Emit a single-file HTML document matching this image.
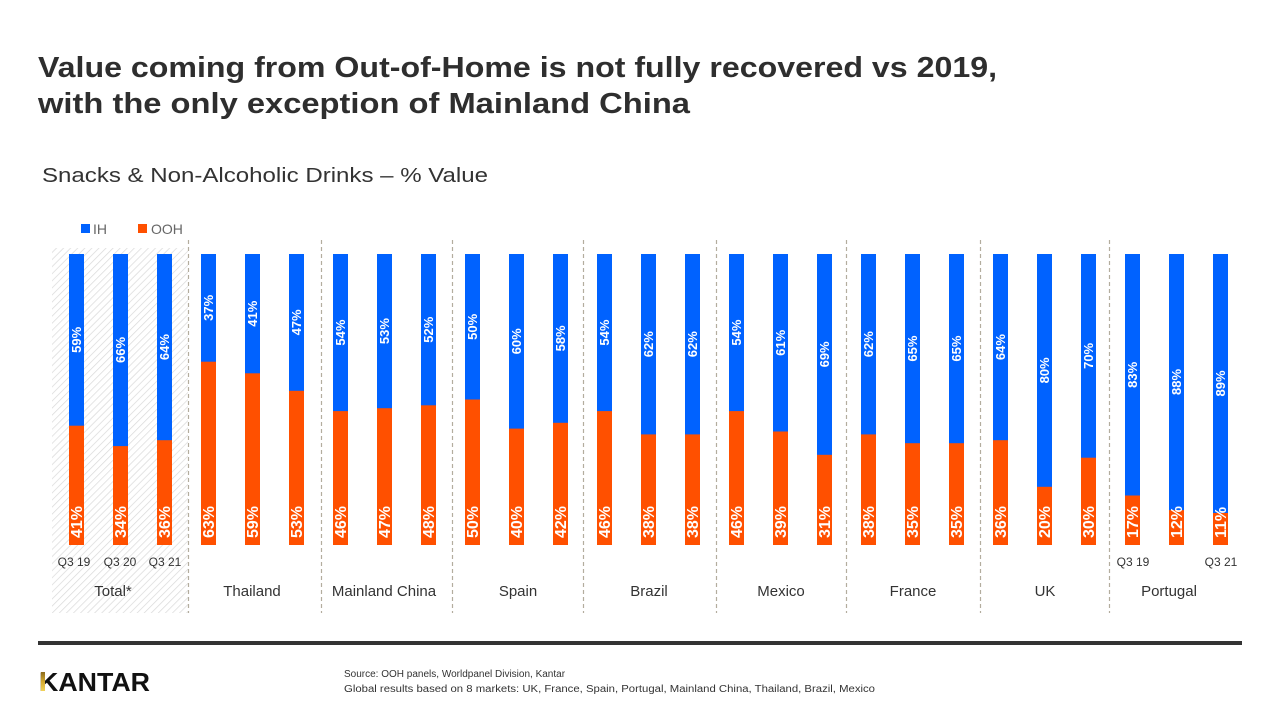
<!DOCTYPE html>
<html><head><meta charset="utf-8"><style>
html,body{margin:0;padding:0;background:#fff;}
svg{display:block;font-family:"Liberation Sans",sans-serif;}
.ih{font-size:13px;font-weight:bold;fill:#fff;text-anchor:middle;}
.oh{font-size:16px;font-weight:bold;fill:#fff;text-anchor:start;}
.q{font-size:12px;fill:#333;text-anchor:middle;}
.c{font-size:15px;fill:#333;text-anchor:middle;}
</style></head><body>
<svg width="1280" height="720" viewBox="0 0 1280 720" xmlns="http://www.w3.org/2000/svg">
<defs>
<pattern id="hatch" width="5" height="5" patternUnits="userSpaceOnUse" patternTransform="rotate(45)">
<rect width="5" height="5" fill="#fff"/>
<line x1="0" y1="0" x2="0" y2="5" stroke="#d9d9d9" stroke-width="1.4"/>
</pattern>
<linearGradient id="gold" x1="0" y1="0" x2="0" y2="1">
<stop offset="0" stop-color="#8a6a1c"/><stop offset="0.5" stop-color="#d4a92f"/><stop offset="1" stop-color="#f2d35a"/>
</linearGradient>
</defs>
<rect width="1280" height="720" fill="#fff"/>
<text x="38" y="77" font-size="29" font-weight="bold" fill="#2e2e2e" textLength="959" lengthAdjust="spacingAndGlyphs">Value coming from Out-of-Home is not fully recovered vs 2019,</text>
<text x="38" y="113" font-size="29" font-weight="bold" fill="#2e2e2e" textLength="652" lengthAdjust="spacingAndGlyphs">with the only exception of Mainland China</text>
<text x="42" y="182" font-size="20" fill="#333" textLength="446" lengthAdjust="spacingAndGlyphs">Snacks &amp; Non-Alcoholic Drinks – % Value</text>
<rect x="81" y="224" width="9" height="9" fill="#0062ff"/>
<text x="93" y="234" font-size="14" fill="#666">IH</text>
<rect x="138" y="224" width="9" height="9" fill="#ff5000"/>
<text x="151" y="234" font-size="14" fill="#666">OOH</text>
<rect x="52" y="248" width="136" height="365" fill="url(#hatch)"/>
<g stroke="#b3ad9e" stroke-width="1.2" stroke-dasharray="4,3">
<line x1="188.5" y1="240" x2="188.5" y2="613"/>
<line x1="321.5" y1="240" x2="321.5" y2="613"/>
<line x1="452.5" y1="240" x2="452.5" y2="613"/>
<line x1="583.5" y1="240" x2="583.5" y2="613"/>
<line x1="716.5" y1="240" x2="716.5" y2="613"/>
<line x1="846.5" y1="240" x2="846.5" y2="613"/>
<line x1="980.5" y1="240" x2="980.5" y2="613"/>
<line x1="1109.5" y1="240" x2="1109.5" y2="613"/>
</g>
<g fill="#0062ff">
<rect x="69" y="254" width="15" height="291"/><rect x="113" y="254" width="15" height="291"/><rect x="157" y="254" width="15" height="291"/>
<rect x="201" y="254" width="15" height="291"/><rect x="245" y="254" width="15" height="291"/><rect x="289" y="254" width="15" height="291"/>
<rect x="333" y="254" width="15" height="291"/><rect x="377" y="254" width="15" height="291"/><rect x="421" y="254" width="15" height="291"/>
<rect x="465" y="254" width="15" height="291"/><rect x="509" y="254" width="15" height="291"/><rect x="553" y="254" width="15" height="291"/>
<rect x="597" y="254" width="15" height="291"/><rect x="641" y="254" width="15" height="291"/><rect x="685" y="254" width="15" height="291"/>
<rect x="729" y="254" width="15" height="291"/><rect x="773" y="254" width="15" height="291"/><rect x="817" y="254" width="15" height="291"/>
<rect x="861" y="254" width="15" height="291"/><rect x="905" y="254" width="15" height="291"/><rect x="949" y="254" width="15" height="291"/>
<rect x="993" y="254" width="15" height="291"/><rect x="1037" y="254" width="15" height="291"/><rect x="1081" y="254" width="15" height="291"/>
<rect x="1125" y="254" width="15" height="291"/><rect x="1169" y="254" width="15" height="291"/><rect x="1213" y="254" width="15" height="291"/>
</g>
<g fill="#ff5000">
<rect x="69" y="425.7" width="15" height="119.3"/>
<rect x="113" y="446.1" width="15" height="98.9"/>
<rect x="157" y="440.2" width="15" height="104.8"/>
<rect x="201" y="361.7" width="15" height="183.3"/>
<rect x="245" y="373.3" width="15" height="171.7"/>
<rect x="289" y="390.8" width="15" height="154.2"/>
<rect x="333" y="411.1" width="15" height="133.9"/>
<rect x="377" y="408.2" width="15" height="136.8"/>
<rect x="421" y="405.3" width="15" height="139.7"/>
<rect x="465" y="399.5" width="15" height="145.5"/>
<rect x="509" y="428.6" width="15" height="116.4"/>
<rect x="553" y="422.8" width="15" height="122.2"/>
<rect x="597" y="411.1" width="15" height="133.9"/>
<rect x="641" y="434.4" width="15" height="110.6"/>
<rect x="685" y="434.4" width="15" height="110.6"/>
<rect x="729" y="411.1" width="15" height="133.9"/>
<rect x="773" y="431.5" width="15" height="113.5"/>
<rect x="817" y="454.8" width="15" height="90.2"/>
<rect x="861" y="434.4" width="15" height="110.6"/>
<rect x="905" y="443.2" width="15" height="101.8"/>
<rect x="949" y="443.2" width="15" height="101.8"/>
<rect x="993" y="440.2" width="15" height="104.8"/>
<rect x="1037" y="486.8" width="15" height="58.2"/>
<rect x="1081" y="457.7" width="15" height="87.3"/>
<rect x="1125" y="495.5" width="15" height="49.5"/>
<rect x="1169" y="510.1" width="15" height="34.9"/>
<rect x="1213" y="513.0" width="15" height="32.0"/>
</g>
<g>
<text class="ih" transform="translate(81.2,339.8) rotate(-90)">59%</text>
<text class="ih" transform="translate(125.2,350.0) rotate(-90)">66%</text>
<text class="ih" transform="translate(169.2,347.1) rotate(-90)">64%</text>
<text class="ih" transform="translate(213.2,307.8) rotate(-90)">37%</text>
<text class="ih" transform="translate(257.2,313.7) rotate(-90)">41%</text>
<text class="ih" transform="translate(301.2,322.4) rotate(-90)">47%</text>
<text class="ih" transform="translate(345.2,332.6) rotate(-90)">54%</text>
<text class="ih" transform="translate(389.2,331.1) rotate(-90)">53%</text>
<text class="ih" transform="translate(433.2,329.7) rotate(-90)">52%</text>
<text class="ih" transform="translate(477.2,326.8) rotate(-90)">50%</text>
<text class="ih" transform="translate(521.2,341.3) rotate(-90)">60%</text>
<text class="ih" transform="translate(565.2,338.4) rotate(-90)">58%</text>
<text class="ih" transform="translate(609.2,332.6) rotate(-90)">54%</text>
<text class="ih" transform="translate(653.2,344.2) rotate(-90)">62%</text>
<text class="ih" transform="translate(697.2,344.2) rotate(-90)">62%</text>
<text class="ih" transform="translate(741.2,332.6) rotate(-90)">54%</text>
<text class="ih" transform="translate(785.2,342.8) rotate(-90)">61%</text>
<text class="ih" transform="translate(829.2,354.4) rotate(-90)">69%</text>
<text class="ih" transform="translate(873.2,344.2) rotate(-90)">62%</text>
<text class="ih" transform="translate(917.2,348.6) rotate(-90)">65%</text>
<text class="ih" transform="translate(961.2,348.6) rotate(-90)">65%</text>
<text class="ih" transform="translate(1005.2,347.1) rotate(-90)">64%</text>
<text class="ih" transform="translate(1049.2,370.4) rotate(-90)">80%</text>
<text class="ih" transform="translate(1093.2,355.9) rotate(-90)">70%</text>
<text class="ih" transform="translate(1137.2,374.8) rotate(-90)">83%</text>
<text class="ih" transform="translate(1181.2,382.0) rotate(-90)">88%</text>
<text class="ih" transform="translate(1225.2,383.5) rotate(-90)">89%</text>
</g>
<g>
<text class="oh" transform="translate(82.2,538) rotate(-90)">41%</text>
<text class="oh" transform="translate(126.2,538) rotate(-90)">34%</text>
<text class="oh" transform="translate(170.2,538) rotate(-90)">36%</text>
<text class="oh" transform="translate(214.2,538) rotate(-90)">63%</text>
<text class="oh" transform="translate(258.2,538) rotate(-90)">59%</text>
<text class="oh" transform="translate(302.2,538) rotate(-90)">53%</text>
<text class="oh" transform="translate(346.2,538) rotate(-90)">46%</text>
<text class="oh" transform="translate(390.2,538) rotate(-90)">47%</text>
<text class="oh" transform="translate(434.2,538) rotate(-90)">48%</text>
<text class="oh" transform="translate(478.2,538) rotate(-90)">50%</text>
<text class="oh" transform="translate(522.2,538) rotate(-90)">40%</text>
<text class="oh" transform="translate(566.2,538) rotate(-90)">42%</text>
<text class="oh" transform="translate(610.2,538) rotate(-90)">46%</text>
<text class="oh" transform="translate(654.2,538) rotate(-90)">38%</text>
<text class="oh" transform="translate(698.2,538) rotate(-90)">38%</text>
<text class="oh" transform="translate(742.2,538) rotate(-90)">46%</text>
<text class="oh" transform="translate(786.2,538) rotate(-90)">39%</text>
<text class="oh" transform="translate(830.2,538) rotate(-90)">31%</text>
<text class="oh" transform="translate(874.2,538) rotate(-90)">38%</text>
<text class="oh" transform="translate(918.2,538) rotate(-90)">35%</text>
<text class="oh" transform="translate(962.2,538) rotate(-90)">35%</text>
<text class="oh" transform="translate(1006.2,538) rotate(-90)">36%</text>
<text class="oh" transform="translate(1050.2,538) rotate(-90)">20%</text>
<text class="oh" transform="translate(1094.2,538) rotate(-90)">30%</text>
<text class="oh" transform="translate(1138.2,538) rotate(-90)">17%</text>
<text class="oh" transform="translate(1182.2,538) rotate(-90)">12%</text>
<text class="oh" transform="translate(1226.2,538) rotate(-90)">11%</text>
</g>
<text class="q" x="74" y="566">Q3 19</text>
<text class="q" x="120" y="566">Q3 20</text>
<text class="q" x="165" y="566">Q3 21</text>
<text class="q" x="1133" y="566">Q3 19</text>
<text class="q" x="1221" y="566">Q3 21</text>
<text class="c" x="113" y="596">Total*</text>
<text class="c" x="252" y="596">Thailand</text>
<text class="c" x="384" y="596">Mainland China</text>
<text class="c" x="518" y="596">Spain</text>
<text class="c" x="649" y="596">Brazil</text>
<text class="c" x="781" y="596">Mexico</text>
<text class="c" x="913" y="596">France</text>
<text class="c" x="1045" y="596">UK</text>
<text class="c" x="1169" y="596">Portugal</text>
<rect x="38" y="641" width="1204" height="4" fill="#333"/>
<text x="39" y="691" font-size="26" font-weight="bold" fill="#111" textLength="111" lengthAdjust="spacingAndGlyphs">KANTAR</text>
<rect x="40.8" y="672" width="4.2" height="19" fill="url(#gold)"/>
<text x="344" y="677" font-size="10" fill="#333">Source: OOH panels, Worldpanel Division, Kantar</text>
<text x="344" y="692" font-size="10" fill="#333" textLength="531" lengthAdjust="spacingAndGlyphs">Global results based on 8 markets: UK, France, Spain, Portugal, Mainland China, Thailand, Brazil, Mexico</text>
</svg>
</body></html>
